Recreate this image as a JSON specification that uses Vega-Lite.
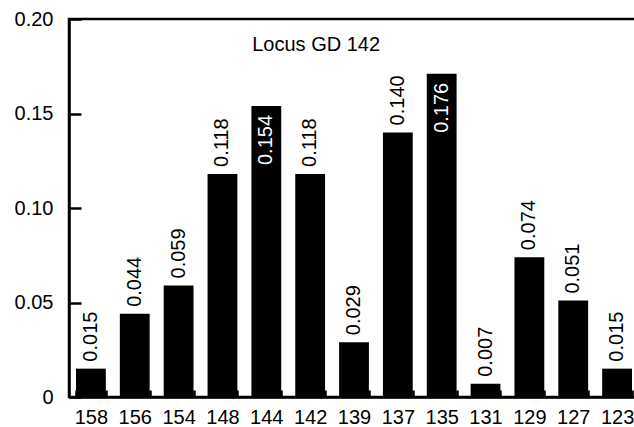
{
  "$schema": "https://vega.github.io/schema/vega-lite/v6.json",
  "width": 570,
  "height": 378,
  "autosize": "none",
  "padding": {"left": 69, "top": 19, "right": 0, "bottom": 30},
  "background": "white",
  "config": {
    "font": "Liberation Sans",
    "view": {"stroke": "black", "strokeWidth": 2.5},
    "axis": {"domainColor": "black", "domainWidth": 2.5, "tickColor": "black", "tickWidth": 2.5, "labelColor": "black", "labelFont": "Liberation Sans", "labelFontSize": 20, "grid": false, "title": null}
  },
  "data": {
    "values": [
      {"allele": "158", "value": 0.015, "label": "0.015"},
      {"allele": "156", "value": 0.044, "label": "0.044"},
      {"allele": "154", "value": 0.059, "label": "0.059"},
      {"allele": "148", "value": 0.118, "label": "0.118"},
      {"allele": "144", "value": 0.154, "label": "0.154"},
      {"allele": "142", "value": 0.118, "label": "0.118"},
      {"allele": "139", "value": 0.029, "label": "0.029"},
      {"allele": "137", "value": 0.140, "label": "0.140"},
      {"allele": "135", "value": 0.171, "label": "0.176"},
      {"allele": "131", "value": 0.007, "label": "0.007"},
      {"allele": "129", "value": 0.074, "label": "0.074"},
      {"allele": "127", "value": 0.051, "label": "0.051"},
      {"allele": "123", "value": 0.015, "label": "0.015"}
    ]
  },
  "encoding": {
    "x": {
      "field": "allele", "type": "nominal", "sort": null,
      "scale": {"paddingInner": 0.32, "paddingOuter": 0.16},
      "axis": {"tickBand": "extent", "tickSize": -7, "labelPadding": 17, "labelAngle": 0}
    },
    "y": {
      "field": "value", "type": "quantitative",
      "scale": {"domain": [0, 0.2], "nice": false, "zero": true},
      "axis": {"values": [0, 0.05, 0.1, 0.15, 0.2], "tickSize": -12, "labelPadding": 28, "labelExpr": "datum.value == 0 ? '0' : format(datum.value, '.2f')"}
    }
  },
  "layer": [
    {"mark": {"type": "bar", "color": "black"}},
    {
      "transform": [{"filter": "datum.value < 0.15"}],
      "mark": {"type": "text", "angle": -90, "align": "left", "baseline": "middle", "dx": 7, "fontSize": 20, "color": "black"},
      "encoding": {"text": {"field": "label"}}
    },
    {
      "transform": [{"filter": "datum.value >= 0.15"}],
      "mark": {"type": "text", "angle": -90, "align": "right", "baseline": "middle", "dx": -9, "fontSize": 20, "color": "white"},
      "encoding": {"text": {"field": "label"}}
    },
    {
      "data": {"values": [{"allele": "142", "value": 0.186, "title": "Locus GD 142"}]},
      "mark": {"type": "text", "align": "center", "baseline": "middle", "dx": 6, "fontSize": 20, "color": "black"},
      "encoding": {"text": {"field": "title"}}
    }
  ]
}
